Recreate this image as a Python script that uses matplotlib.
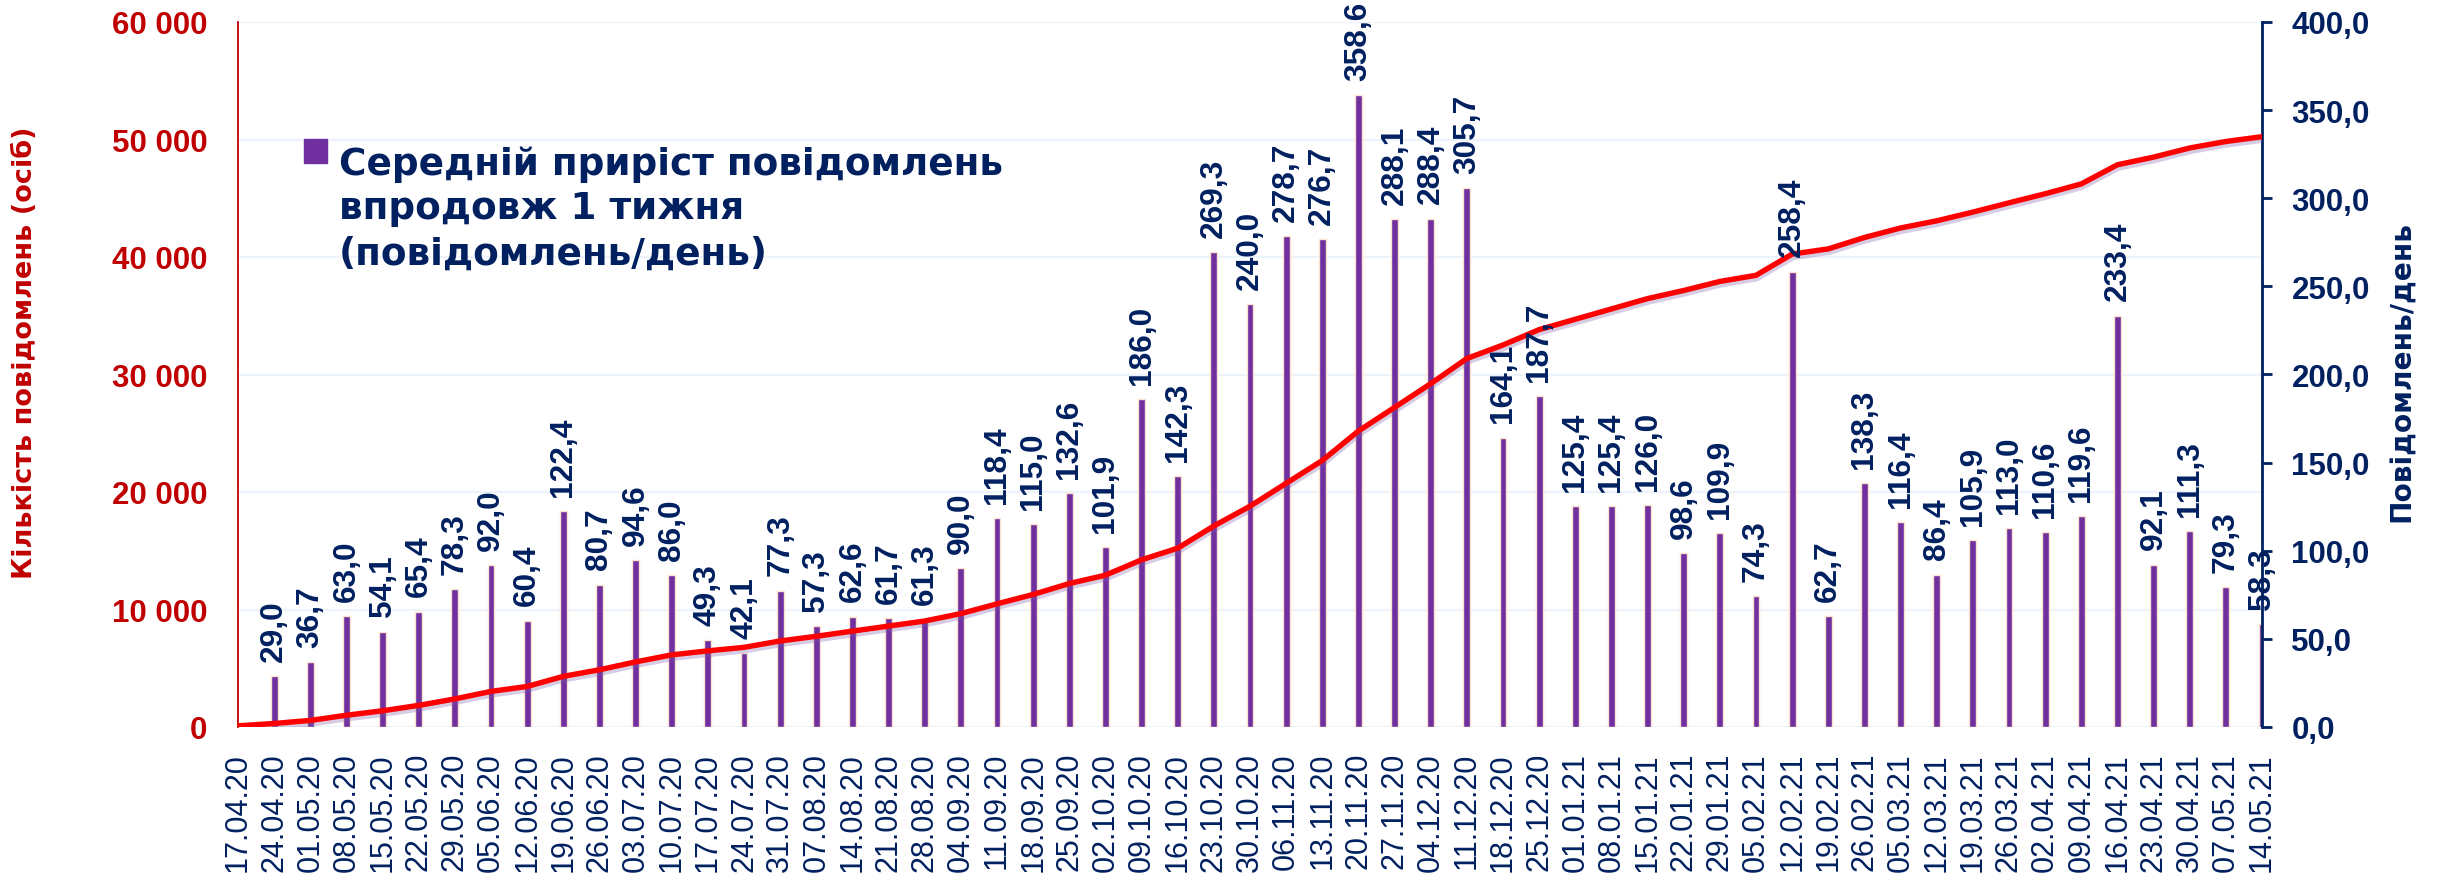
import math
import matplotlib
matplotlib.use("Agg")
import matplotlib.pyplot as plt
import matplotlib.patheffects as pe
from matplotlib.ticker import FuncFormatter
from matplotlib.patches import Rectangle

# ---------------- data ----------------
dates = ["17.04.20", "24.04.20", "01.05.20", "08.05.20", "15.05.20", "22.05.20",
         "29.05.20", "05.06.20", "12.06.20", "19.06.20", "26.06.20", "03.07.20",
         "10.07.20", "17.07.20", "24.07.20", "31.07.20", "07.08.20", "14.08.20",
         "21.08.20", "28.08.20", "04.09.20", "11.09.20", "18.09.20", "25.09.20",
         "02.10.20", "09.10.20", "16.10.20", "23.10.20", "30.10.20", "06.11.20",
         "13.11.20", "20.11.20", "27.11.20", "04.12.20", "11.12.20", "18.12.20",
         "25.12.20", "01.01.21", "08.01.21", "15.01.21", "22.01.21", "29.01.21",
         "05.02.21", "12.02.21", "19.02.21", "26.02.21", "05.03.21", "12.03.21",
         "19.03.21", "26.03.21", "02.04.21", "09.04.21", "16.04.21", "23.04.21",
         "30.04.21", "07.05.21", "14.05.21"]

# average weekly increase (messages/day); first date has no bar
avg_per_day = [None, 29.0, 36.7, 63.0, 54.1, 65.4, 78.3, 92.0, 60.4, 122.4, 80.7,
               94.6, 86.0, 49.3, 42.1, 77.3, 57.3, 62.6, 61.7, 61.3, 90.0, 118.4,
               115.0, 132.6, 101.9, 186.0, 142.3, 269.3, 240.0, 278.7, 276.7, 358.6,
               288.1, 288.4, 305.7, 164.1, 187.7, 125.4, 125.4, 126.0, 98.6, 109.9,
               74.3, 258.4, 62.7, 138.3, 116.4, 86.4, 105.9, 113.0, 110.6, 119.6,
               233.4, 92.1, 111.3, 79.3, 58.3]

# cumulative number of messages (left axis)
total_messages = [100, 300, 560, 1000, 1380, 1840, 2390, 3030, 3450, 4310, 4870,
                  5540, 6140, 6480, 6780, 7320, 7720, 8160, 8590, 9020, 9650, 10480,
                  11280, 12210, 12920, 14230, 15220, 17110, 18790, 20740, 22680, 25190,
                  27200, 29220, 31360, 32510, 33820, 34700, 35580, 36460, 37150, 37920,
                  38440, 40250, 40690, 41660, 42470, 43080, 43820, 44610, 45380, 46220,
                  47850, 48500, 49280, 49830, 50240]

legend_lines = ["Середній приріст повідомлень", "впродовж 1 тижня", "(повідомлень/день)"]
left_label = "Кількість повідомлень (осіб)"
right_label = "Повідомлень/день"

# ---------------- style ----------------
RED = "#c00000"
NAVY = "#002060"
PURPLE = "#7030a0"
LINE_RED = "#ff0000"
plt.rcParams["font.family"] = ["Liberation Sans", "DejaVu Sans"]

W, H, DPI = 2440, 878, 100
fig = plt.figure(figsize=(W / DPI, H / DPI), dpi=DPI)
fig.patch.set_facecolor("white")
L, R, T, B = 238, 2262, 23, 728
ax1 = fig.add_axes([L / W, 1 - B / H, (R - L) / W, (B - T) / H])
ax2 = ax1.twinx()

n = len(dates)
xs = list(range(n))

# grid (left axis ticks)
ax1.set_ylim(0, 60000)
ax1.set_yticks(range(0, 60001, 10000))
ax1.yaxis.set_major_formatter(FuncFormatter(lambda v, p: f"{int(v):,}".replace(",", " ")))
ax1.grid(axis="y", color="#edf3fa", lw=1.6)
ax1.set_axisbelow(True)
ax1.set_xlim(0, n - 1)
ax1.set_xticks(xs)
ax1.set_xticklabels(dates, rotation=90)

# bars on right axis
bx = [i for i, v in zip(xs, avg_per_day) if v is not None]
bv = [v for v in avg_per_day if v is not None]
ax2.bar(bx, bv, width=0.19, color=PURPLE, edgecolor="#fbe2cf", linewidth=1.0, zorder=2)
ax2.set_ylim(0, 400)
ax2.set_yticks(range(0, 401, 50))
ax2.yaxis.set_major_formatter(FuncFormatter(lambda v, p: f"{v:.1f}".replace(".", ",")))
ax2.set_xlim(0, n - 1)

for x, v in zip(bx, bv):
    ax2.annotate(f"{v:.1f}".replace(".", ","), (x, v), xytext=(0, 11),
                 textcoords="offset points", rotation=90, ha="center", va="bottom",
                 fontsize=22.8, fontweight="bold", color=NAVY,
                 family="Liberation Sans", annotation_clip=False, zorder=5)

# cumulative line (left-axis data, drawn above bars)
ax2.plot(xs, total_messages, transform=ax1.transData, color=LINE_RED, lw=3.9,
         zorder=4, solid_joinstyle="round", solid_capstyle="round",
         path_effects=[pe.SimpleLineShadow(offset=(0.5, -2.5), shadow_color="#7a5aa8", alpha=0.3),
                       pe.Normal()])

# spines
for s in ["top", "right", "bottom"]:
    ax1.spines[s].set_visible(False)
ax1.spines["left"].set_color(RED)
ax1.spines["left"].set_linewidth(1.3)
for s in ["top", "left", "bottom"]:
    ax2.spines[s].set_visible(False)
ax2.spines["right"].set_color(NAVY)
ax2.spines["right"].set_linewidth(2)

ax1.tick_params(axis="y", length=0, pad=22, labelsize=22.5, labelcolor=RED)
ax1.tick_params(axis="x", length=0, pad=18, labelsize=22, labelcolor=NAVY)
for t in ax1.get_yticklabels():
    t.set_fontweight("bold")
ax2.tick_params(axis="y", length=7.2, width=2, color=NAVY, direction="out", pad=14,
                labelsize=22.5, labelcolor=NAVY)
for t in ax2.get_yticklabels():
    t.set_fontweight("bold")

# ---------------- text fitting helper ----------------
renderer = fig.canvas.get_renderer()


def fit_size(text, target_px, family, weight="bold", base=20.0):
    t = fig.text(0, 0, text, fontsize=base, family=family, weight=weight)
    w = t.get_window_extent(renderer).width
    t.remove()
    return base * target_px / w


# axis labels
fs_l = fit_size(left_label, 453, "DejaVu Sans")
fig.text(25 / W, 1 - 353 / H, left_label, rotation=90, ha="center", va="center",
         fontsize=fs_l, fontweight="bold", color=RED, family="DejaVu Sans")
fs_r = fit_size(right_label, 300, "DejaVu Sans")
fig.text(2402 / W, 1 - 372 / H, right_label, rotation=90, ha="center", va="center",
         fontsize=fs_r, fontweight="bold", color=NAVY, family="DejaVu Sans")

# legend
fig.add_artist(Rectangle((304 / W, 1 - 164 / H), 23 / W, 24 / H,
                         transform=fig.transFigure, color=PURPLE))
fs_leg = fit_size(legend_lines[0], 666, "DejaVu Sans")
for txt, base_y in zip(legend_lines, [175, 219, 265]):
    fig.text(339 / W, 1 - base_y / H, txt, ha="left", va="baseline", fontsize=fs_leg,
             fontweight="bold", color=NAVY, family="DejaVu Sans")

fig.savefig("out.png", dpi=DPI, facecolor="white")
